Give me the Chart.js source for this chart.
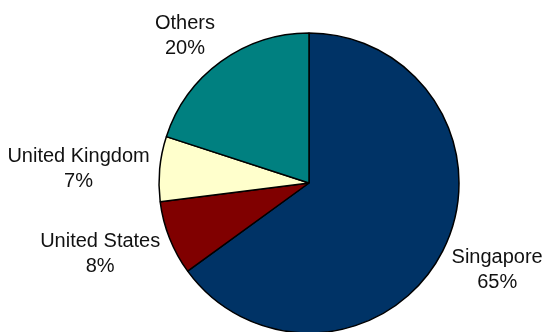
<!DOCTYPE html>
<html>
<head>
<meta charset="utf-8">
<script src="https://cdn.jsdelivr.net/npm/chart.js@4.4.0/dist/chart.umd.min.js"></script>
<style>
  html, body { margin: 0; padding: 0; background: #fff; }
  #wrap { width: 544px; height: 332px; }
</style>
</head>
<body>
<div id="wrap"><canvas id="pie-chart" width="544" height="332"></canvas></div>
<script>
// Share by country
const countries = ['Singapore', 'United States', 'United Kingdom', 'Others'];
const shares = [65, 8, 7, 20];
const sliceColors = ['#003366', '#800000', '#ffffcc', '#008080'];

// Draws "name / pct%" outside each slice, pushed out along the slice's middle angle
const outsideLabels = {
  id: 'outsideLabels',
  afterDatasetsDraw(chart) {
    const ctx = chart.ctx;
    const meta = chart.getDatasetMeta(0);
    const gap = 10;
    const lineHeight = 25;
    ctx.save();
    ctx.font = '20px "Liberation Sans", Arial, sans-serif';
    ctx.fillStyle = '#111';
    ctx.textAlign = 'center';
    ctx.textBaseline = 'middle';
    meta.data.forEach((arc, i) => {
      const p = arc.getProps(['x', 'y', 'startAngle', 'endAngle', 'outerRadius'], true);
      const mid = (p.startAngle + p.endAngle) / 2;
      const ux = Math.cos(mid);
      const uy = Math.sin(mid);
      const lines = [chart.data.labels[i], shares[i] + '%'];
      const w = Math.max(...lines.map(t => ctx.measureText(t).width));
      const h = lines.length * lineHeight;
      const ax = p.x + (p.outerRadius + gap) * ux;
      const ay = p.y + (p.outerRadius + gap) * uy;
      const cx = ax + Math.sign(ux) * w / 2;
      const cy = ay + uy * h / 2 + 3;
      lines.forEach((t, j) => {
        ctx.fillText(t, cx, cy - h / 2 + lineHeight * (j + 0.5));
      });
    });
    ctx.restore();
  }
};

const ctxPie = document.getElementById('pie-chart').getContext('2d');
const pieChart = new Chart(ctxPie, {
  type: 'pie',
  data: {
    labels: countries,
    datasets: [{
      data: shares,
      backgroundColor: sliceColors,
      borderColor: '#000',
      borderWidth: 1.5
    }]
  },
  options: {
    responsive: false,
    animation: false,
    radius: 150,
    layout: { padding: { left: 74, right: 0, top: 34, bottom: 0 } },
    plugins: {
      legend: { display: false },
      tooltip: { enabled: false }
    }
  },
  plugins: [outsideLabels]
});
</script>
</body>
</html>
